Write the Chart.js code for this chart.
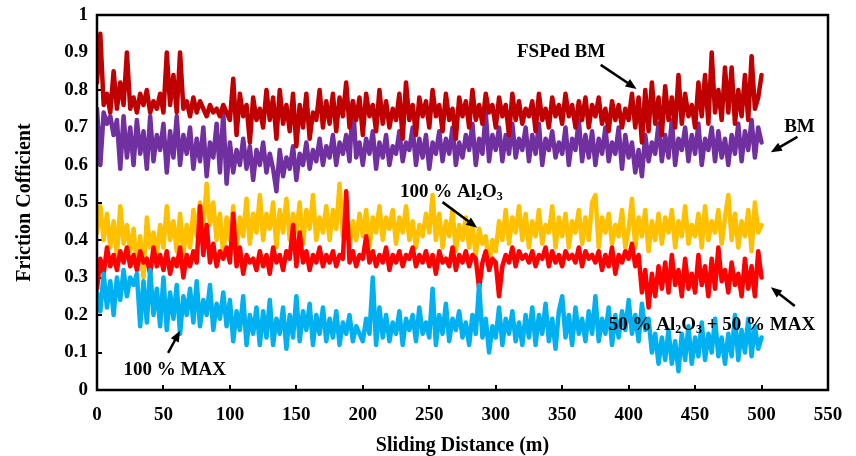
<!DOCTYPE html>
<html>
<head>
<meta charset="utf-8">
<script src="https://cdn.jsdelivr.net/npm/chart.js@4.4.0/dist/chart.umd.min.js"></script>
<style>
  html, body { margin: 0; padding: 0; background: #fff; }
</style>
</head>
<body>
<canvas id="chart" width="856" height="456"></canvas>
<script>
// ------------------ Dados (passo de 2.5 m) ------------------
const step = 2.5;

const fspedBM = [
  0.82, 0.95, 0.76, 0.79, 0.74, 0.85, 0.75, 0.82, 0.76, 0.90,
  0.75, 0.78, 0.74, 0.79, 0.76, 0.80, 0.74, 0.77, 0.75, 0.79,
  0.74, 0.90, 0.76, 0.84, 0.74, 0.90, 0.75, 0.77, 0.73, 0.78,
  0.74, 0.77, 0.75, 0.73, 0.76, 0.74, 0.75, 0.73, 0.76, 0.74,
  0.72, 0.83, 0.68, 0.79, 0.73, 0.76, 0.66, 0.78, 0.72, 0.75,
  0.70, 0.80, 0.72, 0.78, 0.67, 0.80, 0.71, 0.76, 0.69, 0.79,
  0.65, 0.76, 0.70, 0.79, 0.67, 0.74, 0.72, 0.80, 0.70, 0.77,
  0.71, 0.79, 0.69, 0.78, 0.73, 0.82, 0.70, 0.77, 0.72, 0.78,
  0.68, 0.79, 0.73, 0.76, 0.69, 0.80, 0.71, 0.77, 0.70, 0.75,
  0.72, 0.79, 0.67, 0.82, 0.72, 0.76, 0.68, 0.78, 0.73, 0.77,
  0.70, 0.80, 0.73, 0.76, 0.69, 0.79, 0.72, 0.75, 0.67, 0.78,
  0.73, 0.77, 0.70, 0.80, 0.72, 0.76, 0.71, 0.79, 0.74, 0.76,
  0.70, 0.78, 0.73, 0.76, 0.68, 0.79, 0.72, 0.77, 0.71, 0.75,
  0.73, 0.77, 0.69, 0.79, 0.72, 0.75, 0.70, 0.78, 0.73, 0.76,
  0.71, 0.79, 0.73, 0.76, 0.70, 0.77, 0.72, 0.78, 0.70, 0.76,
  0.73, 0.78, 0.71, 0.75, 0.69, 0.77, 0.72, 0.76, 0.70, 0.75,
  0.72, 0.79, 0.70, 0.78, 0.66, 0.80, 0.69, 0.82, 0.71, 0.78,
  0.68, 0.81, 0.72, 0.78, 0.70, 0.84, 0.71, 0.79, 0.73, 0.76,
  0.70, 0.82, 0.73, 0.84, 0.71, 0.90, 0.74, 0.80, 0.72, 0.86,
  0.74, 0.86, 0.71, 0.80, 0.73, 0.84, 0.72, 0.89, 0.75, 0.78, 0.84
];

const bm = [
  0.75, 0.60, 0.74, 0.71, 0.73, 0.68, 0.72, 0.59, 0.73, 0.62,
  0.70, 0.60, 0.72, 0.63, 0.69, 0.59, 0.73, 0.61, 0.68, 0.64,
  0.71, 0.58, 0.69, 0.62, 0.73, 0.60, 0.68, 0.63, 0.70, 0.59,
  0.67, 0.61, 0.70, 0.57, 0.66, 0.62, 0.71, 0.58, 0.74, 0.55,
  0.66, 0.58, 0.64, 0.60, 0.67, 0.59, 0.65, 0.56, 0.64, 0.60,
  0.66, 0.58, 0.63, 0.59, 0.53, 0.64, 0.57, 0.62, 0.59, 0.65,
  0.56, 0.63, 0.60, 0.66, 0.59, 0.64, 0.61, 0.67, 0.60, 0.65,
  0.62, 0.68, 0.60, 0.66, 0.63, 0.68, 0.61, 0.77, 0.62, 0.66,
  0.60, 0.67, 0.63, 0.69, 0.59, 0.66, 0.62, 0.68, 0.60, 0.65,
  0.63, 0.69, 0.61, 0.66, 0.64, 0.70, 0.60, 0.67, 0.62, 0.68,
  0.59, 0.66, 0.63, 0.69, 0.61, 0.67, 0.63, 0.70, 0.60, 0.66,
  0.62, 0.68, 0.64, 0.71, 0.60, 0.67, 0.63, 0.74, 0.61, 0.68,
  0.64, 0.70, 0.61, 0.68, 0.63, 0.71, 0.62, 0.67, 0.64, 0.70,
  0.61, 0.68, 0.63, 0.71, 0.60, 0.67, 0.64, 0.69, 0.62, 0.66,
  0.63, 0.70, 0.60, 0.67, 0.64, 0.72, 0.61, 0.68, 0.62, 0.69,
  0.60, 0.67, 0.63, 0.70, 0.61, 0.66, 0.63, 0.70, 0.59, 0.68,
  0.62, 0.66, 0.58, 0.64, 0.57, 0.68, 0.61, 0.66, 0.63, 0.71,
  0.61, 0.68, 0.62, 0.72, 0.60, 0.67, 0.64, 0.70, 0.61, 0.68,
  0.63, 0.71, 0.60, 0.67, 0.64, 0.70, 0.61, 0.69, 0.62, 0.67,
  0.60, 0.68, 0.63, 0.71, 0.61, 0.69, 0.64, 0.72, 0.62, 0.70, 0.66
];

const al2o3 = [
  0.42, 0.49, 0.40, 0.47, 0.38, 0.45, 0.36, 0.49, 0.39, 0.44,
  0.37, 0.43, 0.33, 0.41, 0.30, 0.46, 0.38, 0.42, 0.36, 0.44,
  0.38, 0.49, 0.40, 0.45, 0.37, 0.47, 0.36, 0.44, 0.38, 0.48,
  0.41, 0.50, 0.43, 0.55, 0.44, 0.50, 0.40, 0.47, 0.36, 0.46,
  0.40, 0.49, 0.37, 0.46, 0.41, 0.51, 0.39, 0.47, 0.42, 0.52,
  0.40, 0.47, 0.43, 0.50, 0.38, 0.48, 0.42, 0.51, 0.40, 0.47,
  0.42, 0.50, 0.39, 0.48, 0.43, 0.52, 0.40, 0.46, 0.42, 0.49,
  0.40, 0.48, 0.43, 0.55, 0.41, 0.47, 0.38, 0.45, 0.40, 0.47,
  0.41, 0.48, 0.38, 0.46, 0.42, 0.49, 0.40, 0.46, 0.43, 0.48,
  0.39, 0.46, 0.42, 0.49, 0.40, 0.45, 0.38, 0.44, 0.41, 0.47,
  0.42, 0.52, 0.40, 0.47, 0.38, 0.45, 0.41, 0.48, 0.37, 0.44,
  0.40, 0.46, 0.38, 0.44, 0.36, 0.43, 0.39, 0.41, 0.33, 0.40,
  0.37, 0.45, 0.40, 0.48, 0.39, 0.46, 0.42, 0.49, 0.40, 0.47,
  0.38, 0.45, 0.41, 0.48, 0.39, 0.44, 0.42, 0.49, 0.38, 0.46,
  0.41, 0.47, 0.38, 0.45, 0.42, 0.48, 0.39, 0.46, 0.40, 0.50,
  0.52, 0.38, 0.46, 0.42, 0.47, 0.39, 0.44, 0.41, 0.48, 0.38,
  0.43, 0.51, 0.38, 0.46, 0.41, 0.48, 0.37, 0.45, 0.40, 0.47,
  0.39, 0.46, 0.42, 0.48, 0.38, 0.45, 0.41, 0.49, 0.39, 0.44,
  0.41, 0.47, 0.38, 0.49, 0.40, 0.45, 0.42, 0.48, 0.39, 0.46,
  0.52, 0.40, 0.47, 0.38, 0.45, 0.41, 0.48, 0.37, 0.50, 0.42, 0.44
];

const mix = [
  0.27, 0.35, 0.31, 0.38, 0.33, 0.36, 0.32, 0.37, 0.34, 0.38,
  0.33, 0.36, 0.32, 0.37, 0.34, 0.35, 0.31, 0.38, 0.33, 0.36,
  0.32, 0.37, 0.31, 0.35, 0.33, 0.38, 0.30, 0.36, 0.33, 0.37,
  0.34, 0.49, 0.36, 0.44, 0.34, 0.39, 0.33, 0.37, 0.35, 0.38,
  0.34, 0.47, 0.33, 0.38, 0.31, 0.36, 0.34, 0.35, 0.32, 0.37,
  0.33, 0.36, 0.31, 0.38, 0.34, 0.36, 0.32, 0.37, 0.35, 0.44,
  0.33, 0.42, 0.34, 0.37, 0.32, 0.36, 0.34, 0.38, 0.33, 0.36,
  0.34, 0.37, 0.33, 0.36, 0.35, 0.53, 0.34, 0.37, 0.33, 0.36,
  0.35, 0.41, 0.34, 0.37, 0.33, 0.36, 0.34, 0.38, 0.32, 0.36,
  0.34, 0.37, 0.33, 0.36, 0.35, 0.38, 0.33, 0.36, 0.34, 0.37,
  0.33, 0.36, 0.31, 0.37, 0.34, 0.35, 0.33, 0.38, 0.32, 0.36,
  0.34, 0.37, 0.33, 0.36, 0.35, 0.27, 0.34, 0.37, 0.32, 0.35,
  0.34, 0.25, 0.33, 0.36, 0.34, 0.38, 0.33, 0.37, 0.35, 0.36,
  0.34, 0.37, 0.33, 0.36, 0.35, 0.38, 0.33, 0.37, 0.34, 0.36,
  0.33, 0.37, 0.35, 0.36, 0.34, 0.38, 0.33, 0.37, 0.35, 0.36,
  0.34, 0.37, 0.32, 0.36, 0.33, 0.38, 0.31, 0.36, 0.34, 0.37,
  0.35, 0.39, 0.33, 0.36, 0.26, 0.32, 0.22, 0.31, 0.25, 0.33,
  0.27, 0.34, 0.26, 0.36, 0.28, 0.32, 0.25, 0.35, 0.27, 0.31,
  0.26, 0.36, 0.28, 0.33, 0.25, 0.35, 0.27, 0.38, 0.29, 0.32,
  0.26, 0.34, 0.28, 0.31, 0.25, 0.35, 0.27, 0.33, 0.25, 0.37, 0.30
];

const max = [
  0.26, 0.21, 0.31, 0.22, 0.29, 0.20, 0.30, 0.24, 0.32, 0.25,
  0.30, 0.28, 0.31, 0.17, 0.29, 0.18, 0.32, 0.20, 0.27, 0.17,
  0.30, 0.16, 0.26, 0.19, 0.28, 0.15, 0.25, 0.20, 0.27, 0.18,
  0.29, 0.17, 0.24, 0.20, 0.28, 0.16, 0.23, 0.19, 0.26, 0.17,
  0.24, 0.13, 0.21, 0.16, 0.25, 0.12, 0.20, 0.15, 0.22, 0.12,
  0.21, 0.14, 0.24, 0.12, 0.19, 0.15, 0.22, 0.11, 0.20, 0.14,
  0.25, 0.13, 0.21, 0.16, 0.23, 0.12, 0.20, 0.15, 0.22, 0.13,
  0.19, 0.14, 0.21, 0.12, 0.18, 0.15, 0.20, 0.13, 0.17, 0.15,
  0.13, 0.19, 0.15, 0.30, 0.12, 0.22, 0.14, 0.20, 0.13, 0.18,
  0.15, 0.21, 0.12, 0.19, 0.16, 0.20, 0.13, 0.22, 0.15, 0.18,
  0.14, 0.27, 0.12, 0.20, 0.15, 0.23, 0.13, 0.19, 0.16, 0.21,
  0.14, 0.18, 0.12, 0.20, 0.15, 0.28, 0.14, 0.19, 0.10, 0.17,
  0.14, 0.22, 0.12, 0.19, 0.15, 0.21, 0.13, 0.18, 0.12, 0.20,
  0.14, 0.22, 0.12, 0.20, 0.15, 0.23, 0.13, 0.19, 0.11, 0.21,
  0.25, 0.14, 0.20, 0.12, 0.22, 0.15, 0.19, 0.13, 0.21, 0.15,
  0.25, 0.13, 0.19, 0.15, 0.22, 0.12, 0.20, 0.14, 0.21, 0.16,
  0.24, 0.15, 0.20, 0.13, 0.23, 0.16, 0.19, 0.10, 0.15, 0.07,
  0.14, 0.08, 0.16, 0.07, 0.13, 0.05, 0.15, 0.08, 0.17, 0.07,
  0.14, 0.09, 0.18, 0.08, 0.15, 0.10, 0.19, 0.09, 0.14, 0.07,
  0.15, 0.09, 0.20, 0.08, 0.16, 0.10, 0.19, 0.09, 0.17, 0.11, 0.14
];

// rótulos e setas (em unidades dos eixos)
const labels = [
  { parts: [['FSPed BM']], x: 316, y: 0.90, from: [379, 0.867], to: [406, 0.803] },
  { parts: [['BM']], x: 517, y: 0.70, from: [527, 0.675], to: [507, 0.634] },
  { parts: [['100 % Al'], ['2', 1], ['O'], ['3', 1]], x: 228, y: 0.528, from: [260, 0.501], to: [286, 0.433] },
  { parts: [['50 % Al'], ['2', 1], ['O'], ['3', 1], [' + 50 % MAX']], x: 385, y: 0.173, from: [525, 0.224], to: [507, 0.274] },
  { parts: [['100 % MAX']], x: 20, y: 0.053, from: [53.5, 0.099], to: [62.5, 0.158] }
];

const toXY = arr => arr.map((v, i) => ({ x: i * step, y: v }));
const serif = '"Liberation Serif", "Times New Roman", serif';

// ------------------ Plugin: moldura + anotações ------------------
const extras = {
  id: 'extras',
  afterDatasetsDraw(chart) {
    const { ctx, chartArea: a, scales: { x, y } } = chart;
    ctx.save();
    ctx.strokeStyle = '#000';
    ctx.lineWidth = 2.5;
    ctx.strokeRect(a.left, a.top, a.right - a.left, a.bottom - a.top);

    ctx.fillStyle = '#000';
    ctx.textBaseline = 'middle';
    ctx.textAlign = 'left';
    labels.forEach(l => {
      let px = x.getPixelForValue(l.x);
      const py = y.getPixelForValue(l.y);
      l.parts.forEach(([t, sub]) => {
        ctx.font = sub ? 'bold 12px ' + serif : 'bold 19px ' + serif;
        ctx.fillText(t, px, sub ? py + 5 : py);
        px += ctx.measureText(t).width;
      });
      // seta
      const x1 = x.getPixelForValue(l.from[0]), y1 = y.getPixelForValue(l.from[1]);
      const x2 = x.getPixelForValue(l.to[0]), y2 = y.getPixelForValue(l.to[1]);
      const ang = Math.atan2(y2 - y1, x2 - x1);
      const head = 11;
      ctx.lineWidth = 2.5;
      ctx.beginPath();
      ctx.moveTo(x1, y1);
      ctx.lineTo(x2 - head * 0.8 * Math.cos(ang), y2 - head * 0.8 * Math.sin(ang));
      ctx.stroke();
      ctx.beginPath();
      ctx.moveTo(x2, y2);
      ctx.lineTo(x2 - head * Math.cos(ang) + 4.5 * Math.sin(ang), y2 - head * Math.sin(ang) - 4.5 * Math.cos(ang));
      ctx.lineTo(x2 - head * Math.cos(ang) - 4.5 * Math.sin(ang), y2 - head * Math.sin(ang) + 4.5 * Math.cos(ang));
      ctx.closePath();
      ctx.fill();
    });
    ctx.restore();
  }
};

// ------------------ Gráfico ------------------
const line = (data, color) => ({
  data: toXY(data),
  borderColor: color,
  backgroundColor: color,
  borderWidth: 4.5,
  borderJoinStyle: 'round',
  borderCapStyle: 'round',
  pointRadius: 0,
  tension: 0,
  fill: false
});

new Chart(document.getElementById('chart'), {
  type: 'line',
  data: {
    datasets: [
      line(max, '#00B0F0'),
      line(mix, '#FF0000'),
      line(al2o3, '#FFC000'),
      line(fspedBM, '#C00000'),
      line(bm, '#7030A0')
    ]
  },
  options: {
    responsive: false,
    animation: false,
    events: [],
    layout: { padding: { left: 0, right: 28, top: 15, bottom: 0 } },
    plugins: { legend: { display: false }, tooltip: { enabled: false } },
    scales: {
      x: {
        type: 'linear',
        min: 0, max: 550,
        afterFit: s => { s.height = 66; s.paddingLeft = 0; s.paddingRight = 0; },
        border: { display: false },
        grid: { drawOnChartArea: false, drawTicks: true, tickLength: -5, color: '#000', lineWidth: 2 },
        ticks: { stepSize: 50, color: '#000', padding: 19, maxRotation: 0, font: { family: serif, size: 19, weight: 'bold' } },
        title: { display: true, text: 'Sliding Distance (m)', color: '#000', padding: { top: 0, bottom: 0 },
                 font: { family: serif, size: 20, weight: 'bold', lineHeight: 1 } }
      },
      y: {
        min: 0, max: 1,
        afterFit: s => { s.width = 97; s.paddingTop = 0; s.paddingBottom = 0; },
        border: { display: false },
        grid: { drawOnChartArea: false, drawTicks: true, tickLength: -5, color: '#000', lineWidth: 2 },
        ticks: { stepSize: 0.1, color: '#000', padding: 14, font: { family: serif, size: 19, weight: 'bold' },
                 callback: v => String(Math.round(v * 10) / 10) },
        title: { display: true, text: 'Friction Cofficient', color: '#000', padding: { top: 15, bottom: 0 },
                 font: { family: serif, size: 20, weight: 'bold', lineHeight: 1 } }
      }
    }
  },
  plugins: [extras]
});
</script>
</body>
</html>
